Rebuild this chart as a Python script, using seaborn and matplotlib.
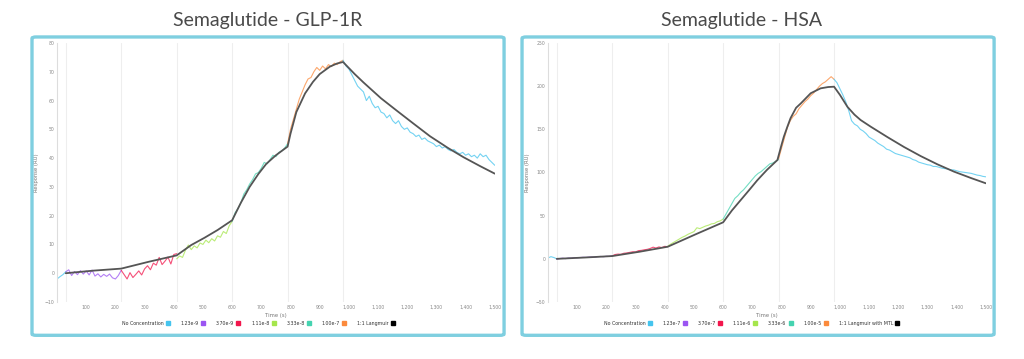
import numpy as np
import pandas as pd
import seaborn as sns
import matplotlib.pyplot as plt
from matplotlib.lines import Line2D
from matplotlib.patches import FancyBboxPatch
from matplotlib.ticker import FuncFormatter

# injection boundaries (s) and sampling step of the sensorgram
seg_starts = [0, 30, 220, 410, 600, 790, 980]
step = 10
seg_colors = ['#45c4ee', '#9b55f2', '#f2164c', '#a5e64c', '#45d3b0', '#fb8a3c', '#45c4ee']

# ---- Semaglutide - GLP-1R ----
glp_title = 'Semaglutide - GLP-1R'
glp_labels = ['No Concentration', '1.23e-9', '3.70e-9', '1.11e-8', '3.33e-8', '1.00e-7', '1:1 Langmuir']
glp_segments = [
    [-2.0, -1.2, -0.5, 0.5],
    [0.5, 1.2, -0.8, 0.6, -0.5, 0.9, -0.3, 0.8, -0.6, 1.1, -1.0, -0.2, -1.3, -0.4, -1.1, -0.3, -1.6, -2.0, -0.8, 1.0],
    [1.0, -0.5, -2.0, 0.2, -1.5, -0.4, 0.8, -0.6, 1.5, 2.6, 1.2, 3.5, 2.8, 5.5, 3.0, 4.2, 5.6, 3.2, 6.5, 6.8],
    [5.0, 6.0, 5.5, 8.0, 9.8, 8.2, 9.5, 8.8, 10.5, 10.0, 11.5, 10.6, 12.0, 11.2, 13.0, 12.5, 14.5, 13.8, 16.5, 18.0],
    [18.0, 21.0, 22.5, 24.5, 27.5, 29.0, 31.0, 32.5, 34.5, 35.0, 36.5, 38.5, 38.0, 39.5, 41.0, 40.5, 42.0, 42.5, 43.5, 45.0],
    [45.0, 50.0, 53.5, 57.0, 60.5, 63.0, 65.5, 67.5, 68.0, 70.0, 71.5, 70.5, 72.0, 71.0, 72.5, 71.8, 73.0, 72.5, 73.5, 74.0],
    [74.0, 72.0, 71.0, 69.0, 67.0, 65.0, 64.0, 63.0, 60.0, 61.5, 59.0, 57.5, 58.0, 56.0, 55.5, 54.0, 55.0, 53.0, 52.0, 53.0,
     51.0, 50.0, 50.5, 49.0, 48.5, 47.5, 48.0, 46.5, 47.0, 46.0, 45.5, 45.0, 44.0, 44.5, 43.5, 44.0, 43.0, 42.5, 43.0, 42.0,
     41.5, 42.0, 41.0, 41.5, 40.5, 41.0, 40.0, 41.5, 40.5, 41.0, 39.5, 38.5, 37.5],
]
glp_fit_t = [30, 125, 220, 315, 410, 460, 505, 550, 600, 630, 660, 690, 717, 750, 790, 800, 820, 850, 877, 900,
             935, 960, 980, 1020, 1050, 1110, 1164, 1220, 1278, 1340, 1393, 1450, 1500]
glp_fit_v = [0.0, 0.9, 1.6, 4.0, 6.2, 9.8, 12.3, 15.0, 18.4, 24.5, 30.0, 34.5, 38.0, 41.0, 44.0, 48.5, 56.0, 62.5,
             66.5, 69.2, 71.8, 72.9, 73.4, 69.2, 66.3, 60.8, 56.5, 52.1, 47.6, 43.5, 40.3, 37.2, 34.6]

# ---- Semaglutide - HSA ----
hsa_title = 'Semaglutide - HSA'
hsa_labels = ['No Concentration', '1.23e-7', '3.70e-7', '1.11e-6', '3.33e-6', '1.00e-5', '1:1 Langmuir with MTL']
hsa_segments = [
    [1.0, 2.5, 1.5, 0.0],
    [-0.5, 0.3, 0.8, 0.2, 1.0, 0.8, 1.5, 1.2, 1.5, 1.8, 1.6, 2.0, 2.2, 1.8, 2.5, 2.8, 2.4, 3.0, 2.8, 3.5],
    [3.5, 5.0, 5.5, 5.2, 6.5, 6.8, 7.5, 8.2, 8.0, 9.5, 9.8, 10.5, 11.0, 12.0, 13.5, 12.5, 13.8, 13.0, 14.5, 14.0],
    [14.5, 17.0, 19.0, 21.0, 23.0, 25.0, 26.5, 28.5, 30.0, 31.5, 36.0, 35.0, 36.5, 38.0, 39.0, 40.5, 41.0, 43.0, 44.0, 46.0],
    [46.0, 52.0, 58.0, 64.0, 70.0, 73.0, 77.0, 80.0, 84.0, 88.0, 92.0, 96.0, 99.0, 101.0, 104.0, 107.0, 110.0, 111.0, 113.0, 115.0],
    [116.0, 128.0, 140.0, 152.0, 160.0, 165.0, 168.0, 174.0, 178.0, 182.0, 185.0, 189.0, 192.0, 196.0, 200.0, 203.0, 205.0, 208.0, 211.0, 208.0],
    [208.0, 204.0, 197.0, 190.0, 182.0, 172.0, 160.0, 156.0, 154.0, 150.0, 148.0, 145.0, 141.0, 139.0, 137.0, 134.0, 132.0, 130.0, 127.0, 126.0,
     124.0, 122.0, 121.0, 120.0, 119.0, 118.0, 117.0, 115.0, 114.0, 112.0, 111.0, 110.0, 109.0, 108.5, 107.0, 107.0, 106.0, 105.0, 104.5, 104.0,
     103.0, 103.0, 102.0, 101.0, 100.5, 100.0, 99.5, 99.0, 98.0, 97.0, 96.5, 95.5, 95.0],
]
hsa_fit_t = [30, 125, 220, 315, 410, 505, 600, 630, 660, 690, 717, 750, 786, 800, 808, 820, 831, 850, 866, 900,
             934, 960, 980, 1000, 1026, 1050, 1071, 1106, 1163, 1220, 1277, 1334, 1391, 1450, 1500]
hsa_fit_v = [0.0, 1.5, 3.2, 8.3, 14.0, 28.3, 42.3, 56.0, 68.0, 80.0, 91.0, 103.0, 114.5, 132.0, 141.5, 153.0, 163.0,
             175.0, 180.0, 191.8, 197.5, 199.0, 199.4, 190.0, 176.0, 167.0, 160.8, 153.0, 141.0, 129.5, 119.0, 109.5,
             101.0, 93.5, 87.5]


def to_frame(segments):
    rows = []
    for i, vals in enumerate(segments):
        t = seg_starts[i] + step * np.arange(len(vals))
        rows.append(pd.DataFrame({'Time': t, 'Response': vals, 'seg': i}))
    return pd.concat(rows, ignore_index=True)


sns.set_style('white')
plt.rcParams['font.family'] = ['Lato', 'DejaVu Sans']
small = ['DejaVu Sans']

fig = plt.figure(figsize=(10.24, 3.59), dpi=100)

panels = [
    (glp_title, glp_labels, glp_segments, glp_fit_t, glp_fit_v, (-10, 80), 10, 0.0557, 0.2617, 0.03125, 0.46),
    (hsa_title, hsa_labels, hsa_segments, hsa_fit_t, hsa_fit_v, (-50, 250), 50, 0.5352, 0.7246, 0.5098, 0.465),
]

for title, labels, segments, fit_t, fit_v, ylim, ystep, ax_left, title_x, box_left, leg_x in panels:
    # outer cyan frame
    fig.patches.append(FancyBboxPatch((box_left, 0.066), 0.461, 0.831,
                                      boxstyle='round,pad=0,rounding_size=0.004',
                                      transform=fig.transFigure, fill=False,
                                      edgecolor='#7fcfe0', linewidth=2.4))
    fig.text(title_x, 0.944, title, ha='center', va='center', fontsize=14, color='#4a4a4a')

    ax = fig.add_axes([ax_left, 0.1588, 0.4275, 0.7214])
    df = to_frame(segments)
    pal = {i: seg_colors[i] for i in range(len(segments))}
    sns.lineplot(data=df, x='Time', y='Response', hue='seg', palette=pal, estimator=None,
                 legend=False, linewidth=0.8, alpha=0.75, ax=ax)
    sns.lineplot(x=fit_t, y=fit_v, color='#555555', linewidth=1.3, ax=ax)

    for b in seg_starts[1:]:
        ax.axvline(b, color='#eeeeee', linewidth=0.8, zorder=0)

    ax.set_xlim(0, 1500)
    ax.set_ylim(*ylim)
    ax.set_xticks(range(100, 1501, 100))
    ax.xaxis.set_major_formatter(FuncFormatter(lambda v, p: f'{int(v):,}'))
    ax.set_yticks(range(ylim[0], ylim[1] + 1, ystep))
    ax.tick_params(length=0, labelsize=3.3, labelcolor='#888888', pad=2)
    for lab in ax.get_xticklabels() + ax.get_yticklabels():
        lab.set_family(small)
    ax.set_xlabel('Time (s)', fontsize=3.8, color='#777777', labelpad=2, family=small)
    ax.set_ylabel('Response (RU)', fontsize=3.8, color='#777777', labelpad=4, family=small)
    for s in ['top', 'right', 'bottom']:
        ax.spines[s].set_visible(False)
    ax.spines['left'].set_color('#dddddd')
    ax.spines['left'].set_linewidth(0.8)

    handles = [Line2D([], [], marker='s', linestyle='none', markersize=3.2,
                      markerfacecolor=c, markeredgecolor=c) for c in seg_colors[:6]]
    handles.append(Line2D([], [], marker='s', linestyle='none', markersize=3.2,
                          markerfacecolor='black', markeredgecolor='black'))
    ax.legend(handles, labels, loc='center', bbox_to_anchor=(leg_x, -0.083), ncol=7, frameon=False,
              markerfirst=False, handletextpad=0.4, columnspacing=2.2, handlelength=1.0,
              labelcolor='#333333', prop={'family': small, 'size': 3.4})

fig.savefig('out.png', dpi=100)
